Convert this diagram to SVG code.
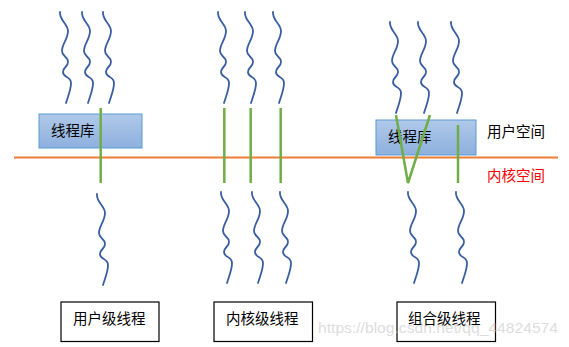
<svg xmlns="http://www.w3.org/2000/svg" xmlns:xlink="http://www.w3.org/1999/xlink" width="569" height="347" viewBox="0 0 569 347">
<style>
.wave{fill:none;stroke:#3a5da0;stroke-width:1.8;stroke-linecap:round}
.green{stroke:#70ad47;stroke-width:2.5;fill:none}
.lib{stroke:#5b9bd5;stroke-width:1;fill:url(#libgrad)}
.box{fill:#fff;stroke:#000;stroke-width:1.2}
.t{font-family:"Liberation Sans","Noto Sans CJK SC",sans-serif;font-size:14.5px;fill:#000}
.wm{font-family:"Liberation Sans",sans-serif;font-size:15px;fill:#c8c8c8;opacity:0.6}
</style>
<defs>
<linearGradient id="libgrad" x1="0" y1="0" x2="0" y2="1">
<stop offset="0" stop-color="#b0c9e9"/>
<stop offset="1" stop-color="#8db0de"/>
</linearGradient>
<path id="wave" d="M0,0 C-1,8 8,12 8,19 C8,27 2,32 2,39 C2,45 8,44 8,50 C8,55 3,55 3,60 C3,66 11,64 11,71 C11,78 8,84 6,91"/>
</defs>
<rect width="569" height="347" fill="#fff"/>

<g id="waves">
<use href="#wave" x="60" y="12" class="wave"/>
<use href="#wave" x="82" y="12" class="wave"/>
<use href="#wave" x="103" y="12" class="wave"/>
<use href="#wave" x="218" y="12" class="wave"/>
<use href="#wave" x="245" y="12" class="wave"/>
<use href="#wave" x="273" y="12" class="wave"/>
<use href="#wave" x="390" y="22" class="wave"/>
<use href="#wave" x="418" y="22" class="wave"/>
<use href="#wave" x="451" y="22" class="wave"/>
<use href="#wave" x="97" y="194" class="wave"/>
<use href="#wave" x="221" y="192" class="wave"/>
<use href="#wave" x="252" y="192" class="wave"/>
<use href="#wave" x="280" y="192" class="wave"/>
<use href="#wave" x="408" y="192" class="wave"/>
<use href="#wave" x="456" y="192" class="wave"/>
</g>

<g id="lib-left">
<rect class="lib" x="39" y="114" width="103" height="34"/>
<text class="t" x="51" y="136">线程库</text>
</g>
<g id="lib-right">
<rect class="lib" x="376" y="120" width="100" height="35"/>
<text class="t" x="388" y="142">线程库</text>
</g>

<g id="boundary">
<line x1="14" y1="157.5" x2="558" y2="157.5" stroke="#ed7d31" stroke-width="2"/>
<text class="t" x="487" y="137">用户空间</text>
<text class="t" x="487" y="181" style="fill:#ff0000">内核空间</text>
</g>

<g id="connectors">
<line class="green" x1="100.7" y1="108" x2="100.7" y2="183"/>
<line class="green" x1="224.3" y1="108" x2="224.3" y2="183"/>
<line class="green" x1="250.7" y1="108" x2="250.7" y2="183"/>
<line class="green" x1="280.7" y1="108" x2="280.7" y2="183"/>
<polyline class="green" points="396,115 408,183 430,115"/>
<line class="green" x1="458" y1="125" x2="458" y2="183"/>
</g>

<g id="label-user">
<rect class="box" x="61" y="302" width="98" height="39.5"/>
<text class="t" x="73" y="324">用户级线程</text>
</g>
<g id="label-kernel">
<rect class="box" x="214" y="302" width="98.5" height="39.5"/>
<text class="t" x="226" y="324">内核级线程</text>
</g>
<g id="label-combo">
<rect class="box" x="397" y="302" width="98.5" height="39.5"/>
<text class="t" x="408" y="324">组合级线程</text>
</g>

<text class="wm" x="318" y="333" textLength="240" lengthAdjust="spacingAndGlyphs">https://blog.csdn.net/qq_44824574</text>
</svg>
